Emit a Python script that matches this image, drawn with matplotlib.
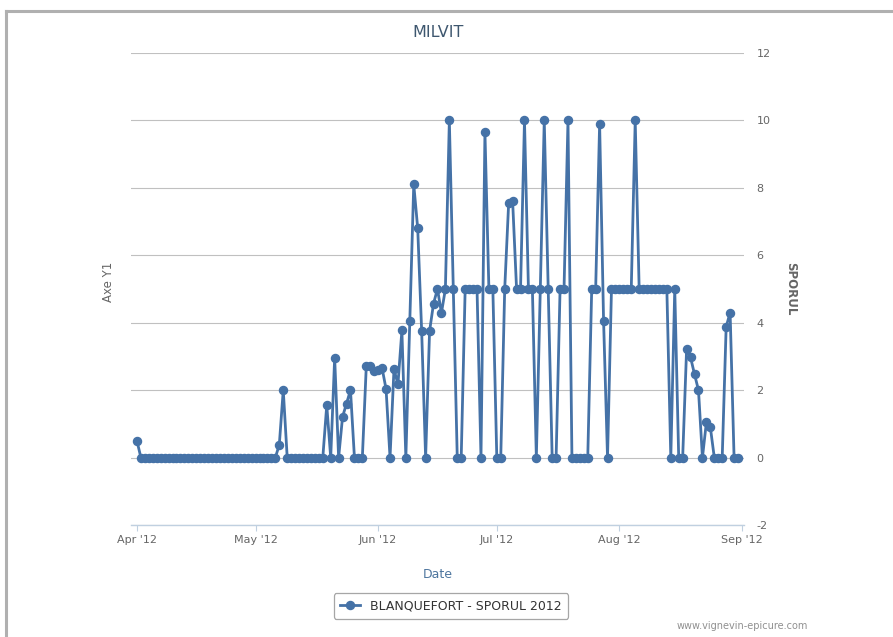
import matplotlib
matplotlib.use("Agg")
import matplotlib.pyplot as plt
import matplotlib.dates as mdates
import pandas as pd

plt.rcParams["axes.unicode_minus"] = False

# daily values, 1 Apr 2012 -> 31 Aug 2012
start_date = "2012-04-01"
sporul = (
    [0.5] + [0] * 35
    + [0.38, 2.0] + [0] * 10
    + [1.55, 0, 2.96, 0, 1.21, 1.6, 2.0, 0, 0, 0]
    + [2.72, 2.71, 2.57, 2.6, 2.65, 2.03, 0, 2.63, 2.17, 3.77, 0]
    + [4.06, 8.1, 6.8, 3.75, 0, 3.75, 4.57, 5.0, 4.29, 5.0, 10, 5, 0, 0]
    + [5, 5, 5, 5, 0, 9.66, 5, 5, 0, 0, 5, 7.55, 7.61, 5, 5, 10, 5, 5, 0]
    + [5, 10, 5, 0, 0, 5, 5, 10] + [0] * 5
    + [5, 5, 9.9, 4.06, 0] + [5] * 6 + [10] + [5] * 8
    + [0, 5, 0, 0, 3.23, 2.97, 2.47, 2.0, 0, 1.05, 0.9, 0, 0, 0]
    + [3.88, 4.3, 0, 0]
)
dates = pd.date_range(start_date, periods=len(sporul), freq="D")
month_ticks = pd.date_range("2012-04-01", "2012-09-01", freq="MS")
y_ticks = [-2, 0, 2, 4, 6, 8, 10, 12]

title = "MILVIT"
series_name = "BLANQUEFORT - SPORUL 2012"

line_color = "#4572A7"
grid_color = "#C0C0C0"
label_color = "#666666"

fig = plt.figure(figsize=(8.93, 6.37), dpi=100)
ax = fig.add_axes([0.1467, 0.1758, 0.6864, 0.741])

ax.plot(dates, sporul, color=line_color, lw=2.0, marker="o", ms=5.8,
        label=series_name, zorder=3, clip_on=False)

ax.set_xlim(pd.Timestamp("2012-04-01") - pd.Timedelta(days=1.5),
            pd.Timestamp("2012-04-01") + pd.Timedelta(days=153.5))
ax.set_ylim(-2, 12)

ax.set_xticks(month_ticks)
ax.xaxis.set_major_formatter(mdates.DateFormatter("%b '%y"))
ax.yaxis.tick_right()
ax.set_yticks(y_ticks)
ax.grid(axis="y", color=grid_color, lw=0.8)
ax.set_axisbelow(True)

for side in ["top", "left", "right"]:
    ax.spines[side].set_visible(False)
ax.spines["bottom"].set_color("#C0D0E0")
ax.spines["bottom"].set_linewidth(1)

ax.tick_params(axis="x", colors="#C0D0E0", labelcolor=label_color,
               labelsize=8, length=4, pad=3)
ax.tick_params(axis="y", length=0, labelcolor=label_color, labelsize=8, pad=9)

ax.yaxis.set_label_position("right")
ax.set_ylabel("SPORUL", rotation=270, color=label_color, fontsize=8.5,
              fontweight="bold", labelpad=19)
fig.text(0.121, 0.557, "Axe Y1", rotation=90, color=label_color,
         fontsize=8.5, ha="center", va="center")
ax.set_xlabel("Date", color="#4D759E", fontsize=9, labelpad=17)

fig.text(0.49, 0.949, title, color="#3E576F", fontsize=11.5,
         ha="center", va="center")

leg = fig.legend(loc="center", bbox_to_anchor=(0.505, 0.049), frameon=True,
                 fontsize=9, handlelength=1.6, borderpad=0.5, fancybox=True)
leg.get_frame().set_edgecolor("#909090")
leg.get_frame().set_linewidth(0.9)
for t in leg.get_texts():
    t.set_color("#333333")

fig.text(0.905, 0.018, "www.vignevin-epicure.com", color="#909090",
         fontsize=7, ha="right", va="center")

# screenshot frame (left and top edges)
fig.add_artist(plt.Line2D([0.007, 0.007], [0, 0.983], color="#B0B0B0",
                          lw=2.2, transform=fig.transFigure))
fig.add_artist(plt.Line2D([0.007, 1], [0.983, 0.983], color="#B0B0B0",
                          lw=2.2, transform=fig.transFigure))

fig.savefig("out.png", dpi=100)
